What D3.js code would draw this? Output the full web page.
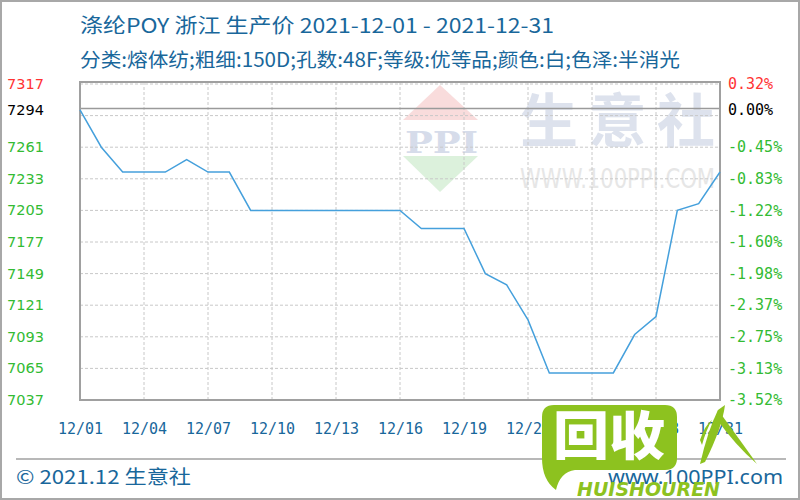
<!DOCTYPE html>
<html><head><meta charset="utf-8">
<script src="https://cdn.jsdelivr.net/npm/d3@7"></script>
<style>
html,body{margin:0;padding:0;background:#fff;}
svg{display:block;}
</style></head>
<body>
<svg id="chart" width="800" height="500"></svg>
<script>
// ---- data ----
const days = d3.range(1, 32);
const prices = [7294,7261,7239,7239,7239,7250,7239,7239,7205,7205,
                7205,7205,7205,7205,7205,7205,7189,7189,7189,7149,
                7139,7108,7061,7061,7061,7061,7095,7111,7205,7211,7239];
const xTickDays = [1,4,7,10,13,16,19,22,25,28,31];
const xTickLabels = ["12/01","12/04","12/07","12/10","12/13","12/16","12/19","12/22","12/25","12/28","12/31"];
const yTicks = [7317,7294,7261,7233,7205,7177,7149,7121,7093,7065,7037];
const yPctLabels = ["0.32%","0.00%","-0.45%","-0.83%","-1.22%","-1.60%","-1.98%","-2.37%","-2.75%","-3.13%","-3.52%"];
const gridValues = [7065,7093,7121,7149,7177,7205,7233,7261,7289,7317];
const basePrice = 7294;
const title = "涤纶POY 浙江 生产价 2021-12-01 - 2021-12-31";
const subtitle = "分类:熔体纺;粗细:150D;孔数:48F;等级:优等品;颜色:白;色泽:半消光";

// ---- layout ----
const L = 80, R = 720, T = 82, B = 400;
const svg = d3.select("#chart");
const x = d3.scaleLinear().domain([1, 31]).range([L, R]);
const y = d3.scaleLinear().domain([7037, 7317]).range([B, 84]);
const blue = "#19679b";

// outer border
svg.append("rect").attr("x",1).attr("y",1).attr("width",798).attr("height",498)
  .attr("fill","#fff").attr("stroke","#a8a8a8").attr("stroke-width",2);

// titles
svg.append("text").attr("x",80).attr("y",33).text(title)
  .attr("font-family","'Noto Sans CJK SC', 'Noto Sans', sans-serif").attr("font-size",20)
  .attr("fill",blue).attr("textLength",474).attr("lengthAdjust","spacingAndGlyphs");
svg.append("text").attr("x",80).attr("y",67).text(subtitle)
  .attr("font-family","'Noto Sans CJK SC', 'Noto Sans', sans-serif").attr("font-size",19.5)
  .attr("fill",blue).attr("textLength",600).attr("lengthAdjust","spacingAndGlyphs");

// watermark in plot
const wm = svg.append("g");
wm.append("path").attr("d", `M403,120 L440,85 L478,120 Z`).attr("fill","#f9dcdc");
wm.append("path").attr("d", `M403,156 L478,156 L440,192 Z`).attr("fill","#dcf1dc");
wm.append("text").attr("x",405).attr("y",153).text("PPI")
  .attr("font-family","'DejaVu Serif', serif").attr("font-weight","bold").attr("font-size",30)
  .attr("fill","#d6dcea").attr("textLength",73).attr("lengthAdjust","spacingAndGlyphs");
wm.append("text").attr("x",520).attr("y",142).text("生意社")
  .attr("font-family","'Noto Sans CJK SC', sans-serif").attr("font-weight","bold").attr("font-size",58)
  .attr("fill","#dde2ed").attr("textLength",195).attr("lengthAdjust","spacing");
wm.append("text").attr("x",520).attr("y",188).text("WWW.100PPI.COM")
  .attr("font-family","'DejaVu Sans', sans-serif").attr("font-size",26)
  .attr("fill","#e6e6e6").attr("textLength",195).attr("lengthAdjust","spacingAndGlyphs");

// grid
svg.append("g").selectAll("line").data(gridValues).join("line")
  .attr("x1",L).attr("x2",R).attr("y1",d=>y(d)).attr("y2",d=>y(d))
  .attr("stroke","#c8c8c8").attr("stroke-width",1).attr("stroke-dasharray","3,2");
svg.append("g").selectAll("line").data(xTickDays.filter(d=>d>1 && d<31)).join("line")
  .attr("x1",d=>x(d)).attr("x2",d=>x(d)).attr("y1",T).attr("y2",B)
  .attr("stroke","#c8c8c8").attr("stroke-width",1).attr("stroke-dasharray","3,2");

// base line
svg.append("line").attr("x1",L).attr("x2",R).attr("y1",y(basePrice)-1.5).attr("y2",y(basePrice)-1.5)
  .attr("stroke","#9a9a9a").attr("stroke-width",1.5);

// frame
svg.append("rect").attr("x",L).attr("y",T).attr("width",R-L).attr("height",B-T)
  .attr("fill","none").attr("stroke","#a0a0a0").attr("stroke-width",2);

// line
svg.append("path").datum(days)
  .attr("d", d3.line().x(d=>x(d)).y((d,i)=>y(prices[i])))
  .attr("fill","none").attr("stroke","#45a0dc").attr("stroke-width",1.5);

// y labels
const colorFor = v => v > basePrice ? "#ff3333" : (v === basePrice ? "#000" : "#33bb33");
svg.append("g").selectAll("text").data(yTicks).join("text")
  .attr("x",7).attr("y",d=>y(d)).attr("dy","0.35em").text(d=>d)
  .attr("font-family","'DejaVu Sans', sans-serif").attr("font-size",14.5)
  .attr("fill",colorFor);
svg.append("g").selectAll("text").data(yTicks).join("text")
  .attr("x",728).attr("y",d=>y(d)).attr("dy","0.35em").text((d,i)=>yPctLabels[i])
  .attr("font-family","'DejaVu Sans Mono', monospace").attr("font-size",15)
  .attr("fill",colorFor);

// x axis
const xAxis = d3.axisBottom(x).tickValues(xTickDays).tickFormat((d,i)=>xTickLabels[i]).tickSize(0).tickPadding(0);
const gx = svg.append("g").attr("transform",`translate(0,${B+23})`).call(xAxis);
gx.select(".domain").remove();
gx.selectAll("text").attr("font-family","'DejaVu Sans Mono', monospace").attr("font-size",15)
  .attr("fill",blue);

// footer
svg.append("line").attr("x1",16).attr("x2",786).attr("y1",459).attr("y2",459)
  .attr("stroke","#a0a0a0").attr("stroke-width",1.5);
svg.append("text").attr("x",16).attr("y",484).text("© 2021.12 生意社")
  .attr("font-family","'Noto Sans CJK SC', sans-serif").attr("font-size",19)
  .attr("fill",blue).attr("textLength",175).attr("lengthAdjust","spacingAndGlyphs");
svg.append("text").attr("x",608).attr("y",484).text("www.100PPI.com")
  .attr("font-family","'Noto Sans', sans-serif").attr("font-size",20)
  .attr("fill",blue).attr("textLength",175).attr("lengthAdjust","spacingAndGlyphs");

// overlay watermark (green)
const g2 = svg.append("g");
const green = "#8dc21f";
g2.append("path").attr("d","M554,405 L665,405 Q677,405 677,417 L677,458 Q677,470 665,470 L575,470 Q560,472 556,490 Q542,480 542,458 L542,417 Q542,405 554,405 Z")
  .attr("fill",green);
g2.append("text").attr("x",553).attr("y",455).text("回收")
  .attr("font-family","'Noto Sans CJK SC', sans-serif").attr("font-weight","900").attr("font-size",52)
  .attr("fill","#fff").attr("textLength",112).attr("lengthAdjust","spacingAndGlyphs");
g2.append("text").attr("x",577).attr("y",496).text("HUISHOUREN")
  .attr("font-family","'DejaVu Sans', sans-serif").attr("font-weight","bold").attr("font-style","italic").attr("font-size",20)
  .attr("fill",green).attr("textLength",143).attr("lengthAdjust","spacingAndGlyphs");
g2.append("path").attr("d","M700,464 Q708,430 718,410 L725,405 Q722,428 705,462 Z").attr("fill",green);
g2.append("path").attr("d","M718,410 Q740,440 757,464 Q735,445 716,418 Z").attr("fill",green);
g2.append("path").attr("d","M700,440 Q705,425 712,420 Q706,430 702,445 Z").attr("fill",green);
</script>
</body></html>
